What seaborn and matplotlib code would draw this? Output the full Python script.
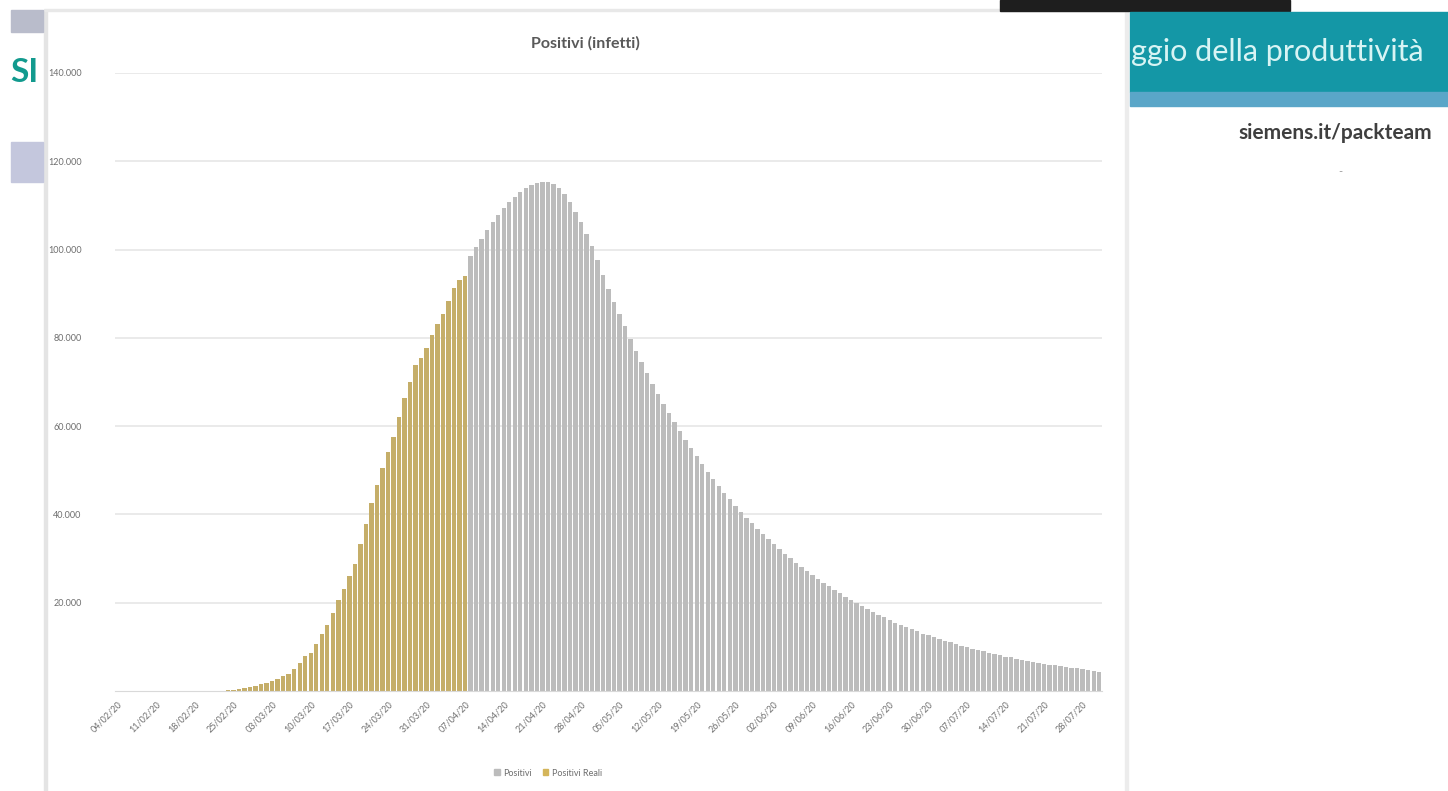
import matplotlib
matplotlib.use("Agg")
import matplotlib.pyplot as plt
import matplotlib.patches as mpatches
import numpy as np
import pandas as pd
import seaborn as sns

# ---------------------------------------------------------------------
# Dati
# ---------------------------------------------------------------------
primo_giorno = "2020-02-04"
giorni_zero = [0] * 20  # 04/02 - 23/02

# Positivi reali 24/02 - 07/04
reali = [221, 311, 385, 588, 821, 1049, 1577, 1835, 2263, 2706, 3296, 3916,
         5061, 6387, 7985, 8514, 10590, 12839, 14955, 17750, 20603, 23073,
         26062, 28710, 33190, 37860, 42681, 46638, 50418, 54030, 57521, 62013,
         66414, 70065, 73880, 75528, 77635, 80572, 83049, 85388, 88274, 91246,
         93187, 94067]

# Proiezione 08/04 - 31/07
proiezione = [98500, 100500, 102500, 104400, 106200, 107900, 109400, 110800,
              112000, 113000, 113900, 114600, 115100, 115400, 115300, 114800,
              113900, 112600, 110800, 108600, 106200, 103600, 100700, 97600,
              94300, 91000, 88200, 85400, 82600, 79800, 77100, 74500, 72000,
              69600, 67300, 65100, 63000, 60900, 58900, 56900, 55000, 53200,
              51400, 49700, 48000, 46400, 44900, 43400, 42000, 40600, 39300,
              38000, 36800, 35600, 34400, 33300, 32200, 31100, 30100, 29100,
              28100, 27200, 26300, 25400, 24500, 23700, 22900, 22100, 21300,
              20600, 19900, 19200, 18500, 17900, 17300, 16700, 16100, 15500,
              15000, 14500, 14000, 13500, 13000, 12600, 12200, 11800, 11400,
              11000, 10600, 10300, 9900, 9600, 9300, 9000, 8700, 8400, 8100,
              7800, 7600, 7300, 7100, 6800, 6600, 6400, 6200, 6000, 5800, 5600,
              5400, 5200, 5100, 4900, 4700, 4600, 4400]

positivi = giorni_zero + reali + proiezione
positivi_reali = [np.nan] * len(giorni_zero) + reali + [np.nan] * len(proiezione)

date = pd.date_range(primo_giorno, periods=len(positivi), freq="D")
etichette = [d.strftime("%d/%m/%y") for d in date]

y_ticks = [20000, 40000, 60000, 80000, 100000, 120000, 140000]

df = pd.DataFrame({
    "data": etichette * 2,
    "serie": ["Positivi"] * len(positivi) + ["Positivi Reali"] * len(positivi),
    "valore": positivi + positivi_reali,
}).dropna()

colori = {"Positivi": "#bcbcbc", "Positivi Reali": "#d4b55a"}
testo = "#6e6e6e"

# ---------------------------------------------------------------------
# Figura
# ---------------------------------------------------------------------
sns.set_style("white")
plt.rcParams["font.family"] = ["Lato", "DejaVu Sans"]

fig = plt.figure(figsize=(14.48, 7.91), dpi=100)
ax = fig.add_axes([115 / 1448, 1 - 691 / 791, (1102 - 115) / 1448, (691 - 73) / 791])

# serie sovrapposte (overlap 100%), i reali sopra la proiezione
sns.barplot(data=df, x="data", y="valore", hue="serie", order=etichette,
            hue_order=["Positivi", "Positivi Reali"], palette=colori,
            dodge=False, width=0.8, linewidth=0, errorbar=None, ax=ax, legend=False)

ax.set_ylim(0, 140000)
ax.set_xlim(-0.5, len(etichette) - 0.5)
ax.set_yticks(y_ticks)
ax.set_yticklabels([f"{v:,}".replace(",", ".") for v in y_ticks],
                   fontsize=6.5, color=testo)
ax.tick_params(axis="y", length=0, pad=24)
ax.yaxis.grid(True, color="#e6e6e6", linewidth=1.2)
ax.set_axisbelow(True)

pos_x = list(range(0, len(etichette), 7))
ax.set_xticks(pos_x)
ax.set_xticklabels([etichette[i] for i in pos_x], rotation=45, ha="right",
                   rotation_mode="anchor", fontsize=6.5, color=testo)
ax.tick_params(axis="x", length=0, pad=6)
ax.set_xlabel("")
ax.set_ylabel("")
for lato in ["top", "right", "left"]:
    ax.spines[lato].set_visible(False)
ax.spines["bottom"].set_color("#d9d9d9")

fig.text(585 / 1448, 1 - 43 / 791, "Positivi (infetti)", ha="center", va="center",
         fontsize=11.5, fontweight="bold", color="#595959")

maniglie = [mpatches.Patch(color=colori[s], label=s) for s in ["Positivi", "Positivi Reali"]]
fig.legend(handles=maniglie, loc="center", bbox_to_anchor=(548 / 1448, 1 - 773 / 791),
           ncol=2, frameon=False, fontsize=6.5, labelcolor=testo,
           handlelength=0.6, handleheight=0.6, handletextpad=0.4, columnspacing=1.2)

# ---------------------------------------------------------------------
# Contorno dello screenshot (slide)
# ---------------------------------------------------------------------
def rett(x0, y0, x1, y1, colore, z=0):
    fig.patches.append(mpatches.Rectangle((x0 / 1448, 1 - y1 / 791), (x1 - x0) / 1448,
                                          (y1 - y0) / 791, transform=fig.transFigure,
                                          color=colore, zorder=z))

rett(44, 10, 47, 791, "#e4e4e4")
rett(44, 9, 1127, 11, "#e8e8e8")
rett(1125, 11, 1128, 791, "#ececec")
rett(11, 10, 43, 32, "#b9bccb")
rett(11, 142, 43, 182, "#c4c7dd")
rett(1000, 0, 1290, 11, "#1e1e1e")
rett(1130, 12, 1448, 92, "#1497a6")
rett(1130, 92, 1448, 106, "#5aa6c8")

fig.text(10 / 1448, 1 - 73 / 791, "SI", ha="left", va="center", fontsize=24,
         fontweight="bold", color="#129a8e")
fig.text(1131 / 1448, 1 - 52 / 791, "ggio della produttività", ha="left", va="center",
         fontsize=22, color="#d8f4f4")
fig.text(1238 / 1448, 1 - 133 / 791, "siemens.it/packteam", ha="left", va="center",
         fontsize=15, fontweight="bold", color="#3f3f3f")
fig.text(1340 / 1448, 1 - 172 / 791, "-", ha="center", va="center",
         fontsize=8, color="#9a9a9a")

fig.savefig("out.png", dpi=100)
